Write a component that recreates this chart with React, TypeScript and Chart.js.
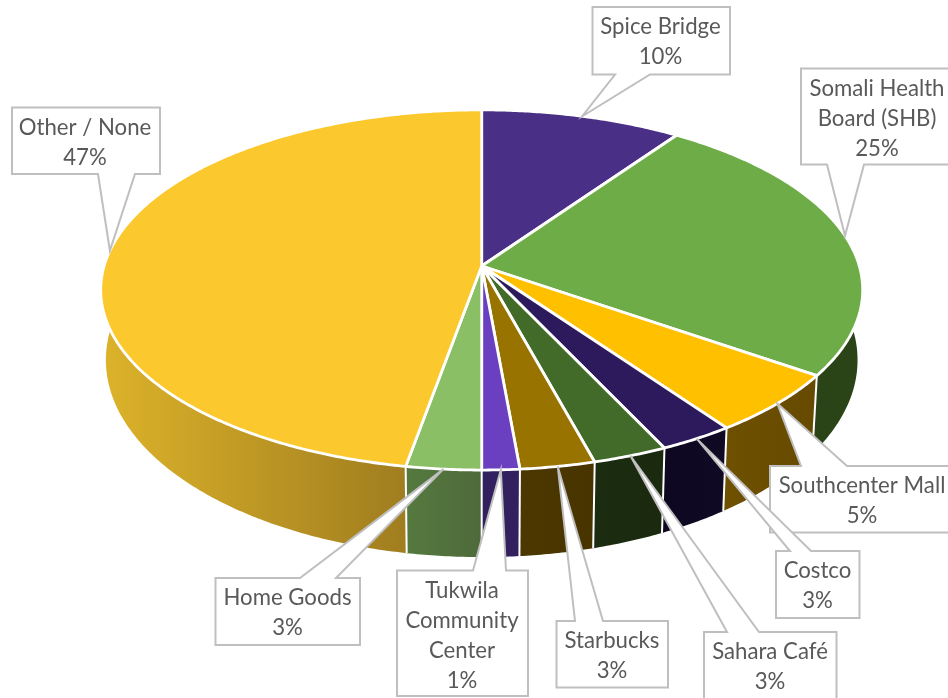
import React, { useEffect, useRef } from "react";
import { Chart, registerables } from "chart.js";

Chart.register(...registerables);

// Shares of respondents, clockwise from twelve o'clock. Callouts show them rounded.
const nameLines: string[][] = [
  ["Spice Bridge"],
  ["Somali Health", "Board (SHB)"],
  ["Southcenter Mall"],
  ["Costco"],
  ["Sahara Café"],
  ["Starbucks"],
  ["Tukwila", "Community", "Center"],
  ["Home Goods"],
  ["Other / None"],
];
const shares: number[] = [9.7, 25, 5.49, 2.81, 2.8, 2.8, 1.4, 2.8, 47.2];

const topColors: string[] = [
  "#4A2F87", "#6DAC47", "#FFC000", "#2C1A5C", "#426B2A",
  "#997300", "#6A3FC0", "#8ABF66", "#FBC92E",
];
// Side-wall shading, left to right across each slice's visible wall.
const wallFrom: string[] = [
  "#2A1A50", "#2A4418", "#6E5000", "#0E0722", "#1B2C10",
  "#4C3700", "#32205F", "#55793F", "#DDB32A",
];
const wallTo: string[] = [
  "#2A1A50", "#2A4418", "#664A00", "#100A24", "#1B2A0F",
  "#483400", "#33205E", "#4E6A3B", "#A07D1F",
];

// Callout boxes: left, top, right, bottom, the two x positions where the
// pointer leaves the box, and the x position the text is centred on.
const calloutBoxes: number[][] = [
  [592.5, 7, 730, 74.5, 615, 650, 660.5],
  [801, 68.5, 960, 164.5, 827, 864, 877],
  [770, 466, 960, 532.5, 801, 847, 862],
  [776, 551, 859.5, 618, 790, 811, 817.5],
  [704, 632, 836.5, 720, 727, 759, 770],
  [556.5, 621, 668, 687.5, 575, 603, 612],
  [397, 570.5, 528, 696, 473, 506, 462],
  [215.5, 578, 360, 645, 300, 336, 287.5],
  [12, 107.5, 160, 174, 98, 135, 85],
];

// Perspective of the tilted disc, top face and bottom face.
const CX = 481.7;
const TOP = { a: 377.6, b: 176.9, y0: 266 };
const BOTTOM = { a: 372.5, b: 193.6, y0: 333.8 };
const TILT = 0.133;
const STEP = Math.PI / 180 / 2;

type Face = { a: number; b: number; y0: number };

const project = (face: Face, theta: number) => {
  const u = Math.sin(theta);
  const v = -Math.cos(theta);
  const d = 1 - TILT * v;
  return { x: CX + (face.a * u) / d, y: face.y0 + (face.b * v) / d };
};

const arcPoints = (face: Face, from: number, to: number) => {
  const pts = [];
  const n = Math.max(1, Math.ceil((to - from) / STEP));
  for (let i = 0; i <= n; i++) pts.push(project(face, from + ((to - from) * i) / n));
  return pts;
};

const trace = (ctx: CanvasRenderingContext2D, pts: { x: number; y: number }[]) => {
  ctx.beginPath();
  pts.forEach((p, i) => (i ? ctx.lineTo(p.x, p.y) : ctx.moveTo(p.x, p.y)));
  ctx.closePath();
};

const tiltedPie = {
  id: "tiltedPie",
  beforeDatasetsDraw(chart: Chart) {
    const ctx = chart.ctx;
    const arcs = chart.getDatasetMeta(0).data as any[];
    const spans = arcs.map((arc) => ({
      from: arc.startAngle + Math.PI / 2,
      to: arc.endAngle + Math.PI / 2,
    }));
    const dist = (i: number) => Math.abs((spans[i].from + spans[i].to) / 2 - Math.PI);
    const order = spans.map((_, i) => i).sort((p, q) => dist(q) - dist(p));

    ctx.save();
    ctx.lineJoin = "round";

    // Side walls, farthest first.
    for (const i of order) {
      const { from, to } = spans[i];
      const rim = arcPoints(TOP, from, to);
      const low = arcPoints(BOTTOM, from, to).reverse();
      const front = rim.filter((p) => p.y >= TOP.y0);
      const xs = (front.length ? front : rim).map((p) => p.x);
      const grad = ctx.createLinearGradient(Math.min(...xs), 0, Math.max(...xs), 0);
      grad.addColorStop(0, wallFrom[i]);
      grad.addColorStop(1, wallTo[i]);
      trace(ctx, [...rim, ...low]);
      ctx.fillStyle = grad;
      ctx.fill();
    }

    // White seams between the walls.
    ctx.strokeStyle = "#FFFFFF";
    ctx.lineWidth = 2;
    for (const { from } of spans) {
      if (Math.cos(from) > 0.2) continue;
      const a = project(TOP, from);
      const b = project(BOTTOM, from);
      ctx.beginPath();
      ctx.moveTo(a.x, a.y);
      ctx.lineTo(b.x, b.y);
      ctx.stroke();
    }

    // Top face.
    ctx.lineWidth = 2.8;
    spans.forEach(({ from, to }, i) => {
      trace(ctx, [{ x: CX, y: TOP.y0 }, ...arcPoints(TOP, from, to)]);
      ctx.fillStyle = topColors[i];
      ctx.fill();
      ctx.stroke();
    });
    ctx.restore();
    return false;
  },
  afterDraw(chart: Chart) {
    const ctx = chart.ctx;
    const arcs = chart.getDatasetMeta(0).data as any[];
    ctx.save();
    ctx.textAlign = "center";
    ctx.textBaseline = "middle";
    ctx.font = "22.2px Lato, sans-serif";
    // Each callout is a white box with a wedge reaching the middle of its slice's rim.
    calloutBoxes.forEach((box, i) => {
      const [l, t, r, b, ba, bb, textX] = box;
      const mid = (arcs[i].startAngle + arcs[i].endAngle) / 2 + Math.PI / 2;
      const tip = project(TOP, mid);
      ctx.beginPath();
      ctx.moveTo(l, t);
      if (tip.y < t) {
        ctx.lineTo(ba, t);
        ctx.lineTo(tip.x, tip.y);
        ctx.lineTo(bb, t);
      }
      ctx.lineTo(r, t);
      ctx.lineTo(r, b);
      if (tip.y > b) {
        ctx.lineTo(bb, b);
        ctx.lineTo(tip.x, tip.y);
        ctx.lineTo(ba, b);
      }
      ctx.lineTo(l, b);
      ctx.closePath();
      ctx.fillStyle = "#FFFFFF";
      ctx.fill();
      ctx.strokeStyle = "#BFBFBF";
      ctx.lineWidth = 2;
      ctx.stroke();

      const lines = [...nameLines[i], `${Math.round(shares[i])}%`];
      ctx.fillStyle = "#595959";
      lines.forEach((line, k) => ctx.fillText(line, textX, t + 20 + k * 30.2));
    });
    ctx.restore();
  },
};

export default function App() {
  const ref = useRef<HTMLCanvasElement>(null);
  useEffect(() => {
    const chart = new Chart(ref.current!, {
      type: "pie",
      data: {
        labels: nameLines.map((n) => n.join(" ")),
        datasets: [{ data: shares, backgroundColor: topColors }],
      },
      options: {
        animation: false,
        responsive: false,
        plugins: { legend: { display: false }, tooltip: { enabled: false } },
      },
      plugins: [tiltedPie],
    });
    return () => chart.destroy();
  }, []);
  return (
    <canvas
      ref={ref}
      width={948}
      height={698}
      style={{ position: "absolute", left: 0, top: 0 }}
    />
  );
}
